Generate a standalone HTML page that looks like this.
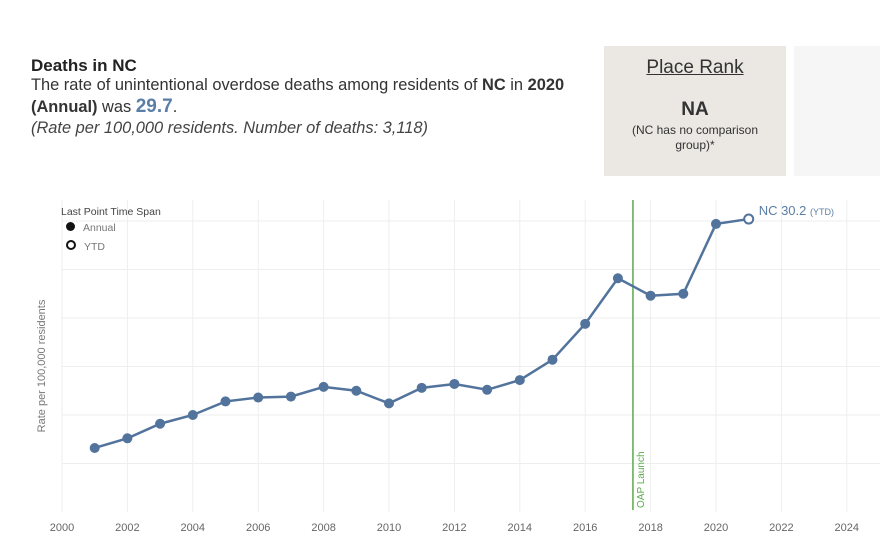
<!DOCTYPE html>
<html><head><meta charset="utf-8"><style>
body{margin:0;width:880px;height:554px;background:#fff;font-family:"Liberation Sans",sans-serif;position:relative;overflow:hidden}
.abs{position:absolute}
</style></head><body>
<div class="abs" style="left:31px;top:56px;font-size:17px;font-weight:bold;color:#222">Deaths in NC</div>
<div class="abs" style="left:31px;top:75px;width:580px;white-space:nowrap;font-size:16.4px;color:#333;line-height:21px">The rate of unintentional overdose deaths among residents of <b>NC</b> in <b>2020</b><br><b>(Annual)</b> was <b style="color:#5a7ea6;font-size:19px">29.7</b>.<br><i style="color:#444">(Rate per 100,000 residents. Number of deaths: 3,118)</i></div>
<div class="abs" style="left:604px;top:46px;width:182px;height:130px;background:#ebe7e3;text-align:center;color:#333">
<div style="margin-top:11px;font-size:19px;text-decoration:underline">Place Rank</div>
<div style="margin-top:20px;font-size:19px;font-weight:bold">NA</div>
<div style="font-size:12px;line-height:15px;margin-top:2px">(NC has no comparison<br>group)*</div></div>
<div class="abs" style="left:794px;top:46px;width:86px;height:130px;background:#f6f6f6"></div>
<svg class="abs" style="left:0;top:0" width="880" height="554" id="chart"></svg>
<script>
const years=[2001,2002,2003,2004,2005,2006,2007,2008,2009,2010,2011,2012,2013,2014,2015,2016,2017,2018,2019,2020,2021];
const rates=[6.6,7.6,9.1,10.0,11.4,11.8,11.9,12.9,12.5,11.2,12.8,13.2,12.6,13.6,15.7,19.4,24.1,22.3,22.5,29.7,30.2];
const xTicks=[2000,2002,2004,2006,2008,2010,2012,2014,2016,2018,2020,2022,2024];
const yGrid=[5,10,15,20,25,30];
const oapYear=2017.46;
const ns="http://www.w3.org/2000/svg",svg=document.getElementById('chart');
const X=y=>62+(y-2000)*32.7, Y=v=>512-v*9.7;
function mk(t,a,p){const e=document.createElementNS(ns,t);for(const k in a)e.setAttribute(k,a[k]);(p||svg).appendChild(e);return e;}
yGrid.forEach(v=>{const l=mk('line',{x1:62,x2:880,y1:Y(v),y2:Y(v),stroke:'#eeeeee'});

});
xTicks.forEach(t=>{const l=mk('line',{x1:X(t),x2:X(t),y1:200,y2:512,stroke:'#eeeeee'});


const tx=mk('text',{x:X(t),y:531,'text-anchor':'middle','font-size':11,fill:'#666'});tx.textContent=t;

});
const yl=mk('text',{transform:'translate(45,366) rotate(-90)','text-anchor':'middle','font-size':11,fill:'#777'});yl.textContent='Rate per 100,000 residents';


const ox=X(oapYear);
const ol=mk('line',{x1:ox,x2:ox,y1:200,y2:510,stroke:'#5aa94c','stroke-width':1.5});


const ot=mk('text',{transform:`translate(${ox+11},508) rotate(-90)`,'font-size':10,fill:'#5aa94c'});ot.textContent='OAP Launch';


const pl=mk('polyline',{points:years.map((y,i)=>X(y)+','+Y(rates[i])).join(' '),fill:'none',stroke:'#52739c','stroke-width':2.5});


years.forEach((y,i)=>{const last=i===years.length-1;
const c=mk('circle',{cx:X(y),cy:Y(rates[i]),r:last?4.5:5,fill:last?'#fff':'#52739c',stroke:'#52739c','stroke-width':last?2:0});

});
const lt=mk('text',{x:X(years[years.length-1])+10,y:Y(rates[rates.length-1])-4,'font-size':13,fill:'#5a7ea6'});
lt.innerHTML='NC '+rates[rates.length-1].toFixed(1)+' <tspan font-size="9">(YTD)</tspan>';


</script>
<div class="abs" style="left:61px;top:206px;font-size:10.5px;color:#444">
<div>Last Point Time Span</div>
<div style="margin-top:4px;color:#777"><span style="display:inline-block;width:9px;height:9px;border-radius:50%;background:#111;margin:0 8px 0 5px"></span>Annual</div>
<div style="margin-top:6px;color:#777"><span style="display:inline-block;width:6px;height:6px;border-radius:50%;border:2px solid #111;margin:0 8px 0 5px"></span>YTD</div>
</div>
</body></html>
